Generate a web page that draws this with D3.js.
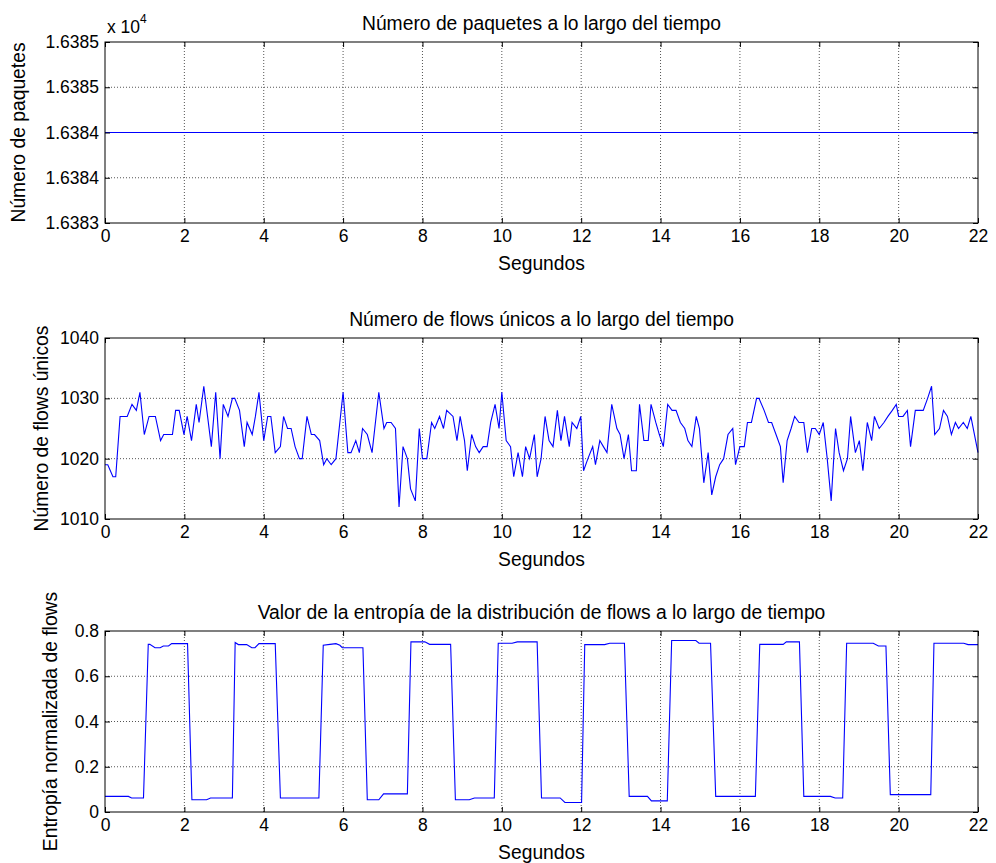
<!DOCTYPE html>
<html><head><meta charset="utf-8">
<script src="https://cdn.jsdelivr.net/npm/d3@7"></script>
<style>body{margin:0;background:#fff}svg{display:block}</style>
</head><body>
<svg id="c" width="996" height="863"></svg>
<script>
// ---------- data ----------
const xTicks = [0, 2, 4, 6, 8, 10, 12, 14, 16, 18, 20, 22];

const titles = [
  "Número de paquetes a lo largo del tiempo",
  "Número de flows únicos a lo largo del tiempo",
  "Valor de la entropía de la distribución de flows a lo largo de tiempo"
];
const yLabels = ["Número de paquetes", "Número de flows únicos", "Entropía normalizada de flows"];
const xLabel = "Segundos";

const packetTimes = [0, 22];
const packetValues = [16384, 16384];
const packetTicks = [16383, 16383.5, 16384, 16384.5, 16385];

const flowTimes = [
  0, 0.07, 0.2, 0.27, 0.38, 0.56, 0.68, 0.79, 0.88, 0.99, 1.11, 1.27, 1.40, 1.48, 1.70, 1.78, 1.87, 1.99, 2.07, 2.18,
  2.30, 2.37, 2.49, 2.68, 2.79, 2.90, 2.98, 3.10, 3.21, 3.27, 3.39, 3.51, 3.58, 3.71, 3.79, 3.88, 4.00, 4.10, 4.18,
  4.29, 4.42, 4.50, 4.60, 4.69, 4.79, 4.90, 4.97, 5.09, 5.20, 5.28, 5.41, 5.51, 5.59, 5.70, 5.82, 6.00, 6.12, 6.20,
  6.32, 6.41, 6.49, 6.61, 6.73, 6.90, 7.03, 7.10, 7.21, 7.32, 7.41, 7.51, 7.62, 7.70, 7.82, 7.92, 8.00, 8.11, 8.23,
  8.31, 8.43, 8.53, 8.61,
  8.77, 8.87, 8.95, 9.06, 9.13, 9.24, 9.34, 9.43, 9.53, 9.63, 9.72, 9.83, 9.93, 10.00, 10.11, 10.22, 10.30, 10.41,
  10.52, 10.60, 10.70, 10.82, 10.89, 10.99, 11.09, 11.19, 11.29, 11.40, 11.49, 11.58, 11.70, 11.77, 11.89, 11.99,
  12.06, 12.17, 12.29, 12.36, 12.47, 12.56, 12.65, 12.77,
  12.90, 12.98, 13.08, 13.19, 13.27, 13.39, 13.47, 13.58, 13.69, 13.76, 13.88, 13.97, 14.07, 14.18, 14.29, 14.39,
  14.50, 14.61, 14.69, 14.79, 14.90, 14.98, 15.09, 15.20, 15.29, 15.39, 15.49, 15.59, 15.70, 15.82, 15.89, 16.00,
  16.11, 16.19, 16.29, 16.42, 16.48, 16.61, 16.72, 16.80, 16.91, 17.02,
  17.09, 17.19, 17.29, 17.38, 17.49, 17.61, 17.70, 17.81, 17.90, 18.00, 18.10, 18.20, 18.30, 18.41, 18.50, 18.61,
  18.71, 18.79, 18.91, 19.01, 19.10, 19.21, 19.32, 19.39, 19.51, 19.63, 19.73, 19.84, 19.94, 20.00, 20.11, 20.22,
  20.30, 20.42, 20.62, 20.73, 20.83, 20.91, 21.03, 21.13, 21.23, 21.33, 21.43, 21.51, 21.63, 21.73, 21.82, 22.00
];
const flowValues = [
  1019, 1019, 1017, 1017, 1027, 1027, 1029, 1028, 1031, 1024, 1027, 1027, 1023, 1024, 1024, 1028, 1028, 1024, 1027, 1023,
  1029, 1026, 1032, 1022, 1031, 1020, 1029, 1027, 1030, 1030, 1028, 1022, 1026, 1024, 1027, 1031, 1023, 1027, 1027,
  1021, 1022, 1027, 1025, 1025, 1022, 1020, 1020, 1027, 1024, 1024, 1023, 1019, 1020, 1019, 1020, 1031, 1021, 1021,
  1023, 1021, 1025, 1024, 1021, 1031, 1025, 1026, 1026, 1025, 1012, 1022, 1020, 1015, 1013, 1025, 1020, 1020, 1026,
  1025, 1027, 1025, 1028,
  1027, 1023, 1027, 1023, 1018, 1024, 1022, 1021, 1022, 1022, 1026, 1029, 1025, 1031, 1023, 1022, 1017, 1021,
  1017, 1022, 1020, 1024, 1017, 1020, 1027, 1023, 1022, 1028, 1023, 1027, 1022, 1026, 1025, 1027,
  1018, 1020, 1022, 1019, 1023, 1022, 1021, 1029,
  1025, 1024, 1020, 1024, 1018, 1018, 1029, 1023, 1023, 1029, 1026, 1024, 1022, 1029, 1028, 1028,
  1026, 1025, 1023, 1022, 1027, 1025, 1016, 1021, 1014, 1017, 1019, 1020, 1024, 1025, 1019, 1022,
  1022, 1026, 1026, 1030, 1030, 1028, 1026, 1026, 1024, 1022,
  1016, 1023, 1025, 1027, 1026, 1026, 1021, 1025, 1025, 1024, 1026, 1020, 1013, 1025, 1021, 1018,
  1020, 1027, 1021, 1023, 1018, 1026, 1023, 1027, 1025, 1026, 1027, 1028, 1029, 1027, 1027, 1028,
  1022, 1028, 1028, 1030, 1032, 1024, 1025, 1028, 1027, 1024, 1026, 1025, 1026, 1025, 1027, 1021
];
const flowTicks = [1010, 1020, 1030, 1040];

const entropyTimes = [
  0, 0.59, 0.67, 0.97, 1.09, 1.13, 1.26, 1.39, 1.47, 1.60, 1.68, 2.08, 2.19, 2.56, 2.66, 3.21, 3.28, 3.36, 3.57, 3.70,
  3.78, 3.88, 4.29, 4.42, 5.39, 5.50, 5.67, 5.82, 5.92, 5.98, 6.50, 6.61, 6.90, 7.02, 7.62, 7.71, 8.06, 8.18, 8.71,
  8.83, 9.18, 9.31, 9.81, 9.91, 10.26, 10.39, 10.89, 11.00, 11.47, 11.59, 12.01, 12.09, 12.59, 12.72, 13.09, 13.21,
  13.67, 13.77, 14.17, 14.28, 14.89, 14.97, 15.26, 15.39, 16.39, 16.50, 17.09, 17.17, 17.50, 17.61, 18.28, 18.40,
  18.59, 18.69, 19.36, 19.49, 19.68, 19.79, 20.81, 20.89, 21.64, 21.75, 22.00
];
const entropyValues = [
  0.069, 0.069, 0.062, 0.062, 0.741, 0.741, 0.726, 0.726, 0.734, 0.734, 0.744, 0.744, 0.054, 0.054, 0.062, 0.062, 0.749,
  0.740, 0.740, 0.726, 0.726, 0.744, 0.744, 0.062, 0.062, 0.737, 0.741, 0.744, 0.737, 0.726, 0.726, 0.054, 0.054, 0.080,
  0.080, 0.752, 0.752, 0.741, 0.741, 0.054, 0.054, 0.062, 0.062, 0.746, 0.746, 0.752, 0.752, 0.062, 0.062, 0.042, 0.042,
  0.740, 0.740, 0.746, 0.746, 0.069, 0.069, 0.049, 0.049, 0.758, 0.758, 0.746, 0.746, 0.069, 0.069, 0.741, 0.741, 0.752,
  0.752, 0.069, 0.069, 0.062, 0.062, 0.746, 0.746, 0.734, 0.734, 0.077, 0.077, 0.746, 0.746, 0.740, 0.740
];
const entropyTicks = [0, 0.2, 0.4, 0.6, 0.8];

// ---------- drawing ----------
const svg = d3.select("#c");
const FONT = "'Liberation Sans', Arial, Helvetica, sans-serif";
const TICK_FS = "17.5px", LABEL_FS = "19.3px";
const left = 105, right = 978;
const x = d3.scaleLinear().domain([0, 22]).range([left, right]);

function panel(cfg) {
  const y = d3.scaleLinear().domain(cfg.domain).range([cfg.bottom, cfg.top]);
  const g = svg.append("g");

  // grid
  g.append("g").selectAll("line").data(xTicks.slice(1, -1)).join("line")
    .attr("x1", d => x(d)).attr("x2", d => x(d)).attr("y1", cfg.top).attr("y2", cfg.bottom)
    .attr("stroke", "#555").attr("stroke-width", 1).attr("stroke-dasharray", "1,2");
  g.append("g").selectAll("line").data(cfg.ticks.slice(1, -1)).join("line")
    .attr("x1", left).attr("x2", right).attr("y1", d => y(d)).attr("y2", d => y(d))
    .attr("stroke", "#555").attr("stroke-width", 1).attr("stroke-dasharray", "1,2");

  // line
  const line = d3.line().x(d => x(d[0])).y(d => y(d[1]));
  g.append("path").datum(d3.zip(cfg.times, cfg.values))
    .attr("d", line).attr("fill", "none").attr("stroke", "#0000ff").attr("stroke-width", 1.1);

  // axes
  const ax = [
    [d3.axisBottom(x).tickValues(xTicks).tickFormat(d3.format("d")), `translate(0,${cfg.bottom})`, 7],
    [d3.axisTop(x).tickValues(xTicks).tickFormat(""), `translate(0,${cfg.top})`, 6],
    [d3.axisLeft(y).tickValues(cfg.ticks).tickFormat(cfg.fmt), `translate(${left},0)`, 6],
    [d3.axisRight(y).tickValues(cfg.ticks).tickFormat(""), `translate(${right},0)`, 6]
  ];
  ax.forEach(([a, t, pad]) => {
    const ag = g.append("g").attr("transform", t)
      .call(a.tickSizeInner(-5).tickSizeOuter(0).tickPadding(pad));
    ag.select(".domain").remove();
    ag.selectAll("line").attr("stroke", "#000");
    ag.selectAll("text").attr("font-family", FONT).attr("font-size", TICK_FS).attr("fill", "#000");
  });
  g.append("rect").attr("x", left).attr("y", cfg.top).attr("width", right - left)
    .attr("height", cfg.bottom - cfg.top).attr("fill", "none").attr("stroke", "#000").attr("stroke-width", 1);

  // title & labels
  g.append("text").attr("x", (left + right) / 2).attr("y", cfg.top - 12)
    .attr("text-anchor", "middle").attr("font-family", FONT).attr("font-size", LABEL_FS).text(cfg.title);
  g.append("text").attr("x", (left + right) / 2).attr("y", cfg.bottom + 47)
    .attr("text-anchor", "middle").attr("font-family", FONT).attr("font-size", LABEL_FS).text(xLabel);
  g.append("text").attr("transform", `translate(${cfg.ylx},${(cfg.top + cfg.bottom) / 2}) rotate(-90)`)
    .attr("text-anchor", "middle").attr("font-family", FONT).attr("font-size", LABEL_FS).text(cfg.ylabel);
  return g;
}

const p1 = panel({ top: 42, bottom: 223, domain: [16383, 16385], ticks: packetTicks,
  fmt: d => (Math.round(d) / 1e4).toFixed(4), times: packetTimes, values: packetValues,
  title: titles[0], ylabel: yLabels[0], ylx: 25 });
const ex = p1.append("text").attr("x", 107).attr("y", 33).attr("font-family", FONT).attr("font-size", TICK_FS);
ex.append("tspan").text("x 10");
ex.append("tspan").attr("dy", -10).attr("font-size", "12px").text("4");

panel({ top: 338, bottom: 519, domain: [1010, 1040], ticks: flowTicks,
  fmt: d3.format("d"), times: flowTimes, values: flowValues,
  title: titles[1], ylabel: yLabels[1], ylx: 48 });

panel({ top: 631, bottom: 812, domain: [0, 0.8], ticks: entropyTicks,
  fmt: d => d === 0 ? "0" : d.toFixed(1), times: entropyTimes, values: entropyValues,
  title: titles[2], ylabel: yLabels[2], ylx: 57 });
</script>
</body></html>
